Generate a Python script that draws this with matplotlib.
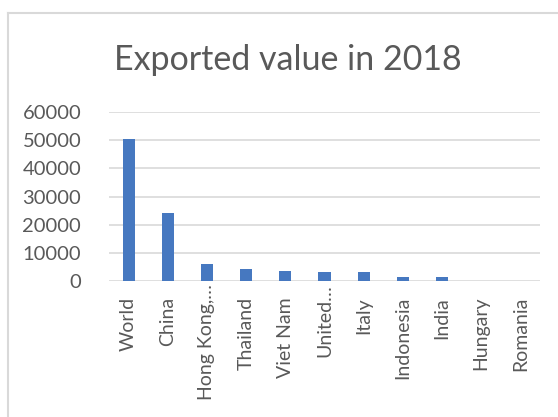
import matplotlib
matplotlib.use("Agg")
import matplotlib.pyplot as plt
from matplotlib.lines import Line2D
from matplotlib.transforms import ScaledTranslation

# data
countries = ["World", "China", "Hong Kong,\u2026", "Thailand", "Viet Nam",
             "United\u2026", "Italy", "Indonesia", "India", "Hungary", "Romania"]
values = [50300, 24300, 6000, 4150, 3650, 3200, 3150, 1400, 1400, 80, 40]
yticks = [0, 10000, 20000, 30000, 40000, 50000, 60000]

plt.rcParams['font.family'] = ['Lato', 'DejaVu Sans']

fig = plt.figure(figsize=(5.58, 4.17), dpi=100)
W, H = 558, 417

# chart area border (top and left edges visible)
border = '#d9d9d9'
fig.add_artist(Line2D([8 / W, 1.0], [1 - 13 / H, 1 - 13 / H], color=border, lw=1.5))
fig.add_artist(Line2D([8 / W, 8 / W], [0, 1 - 13 / H], color=border, lw=1.5))

ax = fig.add_axes([109 / W, 1 - 281 / H, 431 / W, 169 / H])
x = list(range(len(countries)))
ax.bar(x, values, width=0.31, color='#4678C0', zorder=3)

ax.set_xlim(-0.5, len(countries) - 0.5)
ax.set_ylim(0, 60000)
ax.set_yticks(yticks)
ax.set_yticklabels([str(v) for v in yticks])
ax.set_xticks(x)
ax.set_xticklabels([])

ax.grid(axis='y', color='#d9d9d9', lw=1.2, zorder=0)
for s in ax.spines.values():
    s.set_visible(False)
ax.tick_params(axis='both', length=0, labelsize=14.5, colors='#595959')
ax.tick_params(axis='y', pad=20)

# category labels; truncated ones let the ellipsis run up to the axis line
for i, name in zip(x, countries):
    gap = 3 if name.endswith("\u2026") else 16
    tr = ax.get_xaxis_transform() + ScaledTranslation(0, -gap / 100, fig.dpi_scale_trans)
    ax.text(i, 0, name, transform=tr, rotation=90, ha='center', va='top',
            fontsize=14, color='#595959')

fig.text(288 / W, 1 - 70 / H, "Exported value in 2018", ha='center',
         va='baseline', fontsize=24.5, color='#595959')

fig.savefig("out.png", dpi=100)
